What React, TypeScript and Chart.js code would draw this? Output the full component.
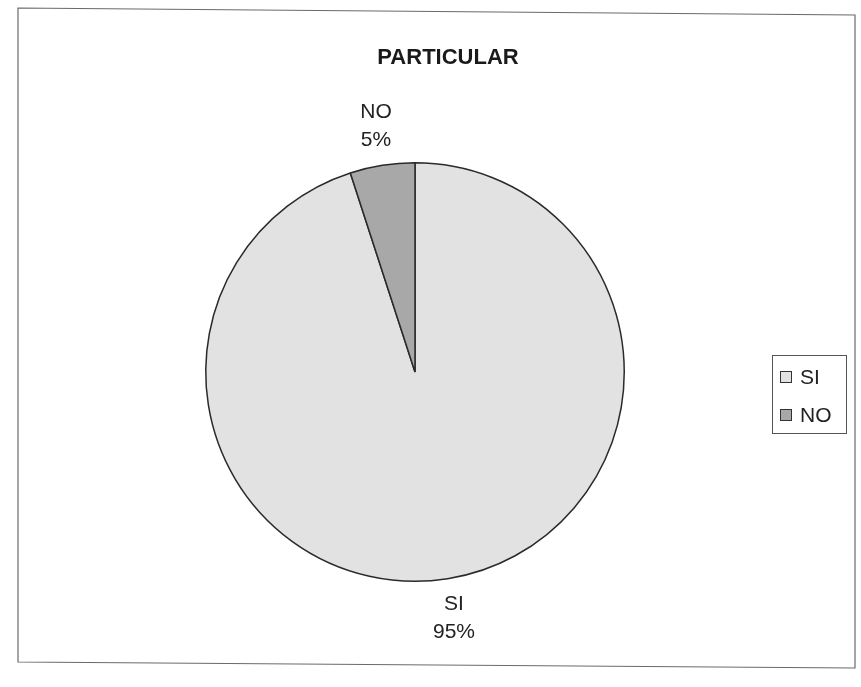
import React, { useEffect, useRef } from "react";
import { Chart, registerables } from "chart.js";

Chart.register(...registerables);

const TITLE = "PARTICULAR";
const CATEGORIES = ["SI", "NO"];
const VALUES = [95, 5];
const PERCENT_LABELS = ["95%", "5%"];
const COLORS = ["#e2e2e2", "#a8a8a8"];

const FONT = "'Liberation Sans', Arial, sans-serif";

const framePlugin = {
  id: "frame",
  beforeDraw(chart: any) {
    const { ctx } = chart;
    ctx.save();
    ctx.fillStyle = "#ffffff";
    ctx.fillRect(0, 0, chart.width, chart.height);
    ctx.strokeStyle = "#6a6a6a";
    ctx.lineWidth = 1.2;
    ctx.beginPath();
    ctx.moveTo(18, 8);
    ctx.lineTo(855, 15);
    ctx.lineTo(855, 668);
    ctx.lineTo(18, 662);
    ctx.closePath();
    ctx.stroke();
    ctx.restore();
  },
  afterDraw(chart: any) {
    const { ctx } = chart;
    ctx.save();
    // title
    ctx.fillStyle = "#1a1a1a";
    ctx.font = `bold 22px ${FONT}`;
    ctx.textAlign = "center";
    ctx.textBaseline = "middle";
    ctx.fillText(TITLE, 448, 58);

    // slice labels
    const meta = chart.getDatasetMeta(0);
    ctx.font = `21px ${FONT}`;
    ctx.fillStyle = "#222222";
    meta.data.forEach((arc: any, i: number) => {
      const mid = (arc.startAngle + arc.endAngle) / 2;
      const d = arc.outerRadius + 40;
      const x = arc.x + Math.cos(mid) * d;
      const y = arc.y + Math.sin(mid) * d;
      ctx.fillText(CATEGORIES[i], x, y - 14);
      ctx.fillText(PERCENT_LABELS[i], x, y + 14);
    });

    // legend
    ctx.strokeStyle = "#555555";
    ctx.lineWidth = 1;
    ctx.strokeRect(772.5, 355.5, 74, 78);
    ctx.textAlign = "left";
    ctx.font = `21px ${FONT}`;
    CATEGORIES.forEach((c, i) => {
      const cy = 377 + i * 38;
      ctx.fillStyle = COLORS[i];
      ctx.fillRect(780.5, cy - 5.5, 11, 11);
      ctx.strokeStyle = "#333333";
      ctx.strokeRect(780.5, cy - 5.5, 11, 11);
      ctx.fillStyle = "#222222";
      ctx.fillText(c, 800, cy + 1);
    });
    ctx.restore();
  },
};

export default function App() {
  const ref = useRef<HTMLCanvasElement>(null);
  useEffect(() => {
    if (!ref.current) return;
    const chart = new Chart(ref.current, {
      type: "pie",
      data: {
        labels: CATEGORIES,
        datasets: [
          {
            data: VALUES,
            backgroundColor: COLORS,
            borderColor: "#2a2a2a",
            borderWidth: 1.5,
          },
        ],
      },
      options: {
        responsive: false,
        animation: false,
        layout: { padding: { left: 205, right: 236, top: 162, bottom: 105 } },
        plugins: {
          legend: { display: false },
          title: { display: false },
          tooltip: { enabled: false },
        },
      },
      plugins: [framePlugin],
    });
    return () => chart.destroy();
  }, []);
  return (
    <div style={{ position: "absolute", left: 0, top: 0, width: 861, height: 687 }}>
      <canvas ref={ref} width={861} height={687} />
    </div>
  );
}
